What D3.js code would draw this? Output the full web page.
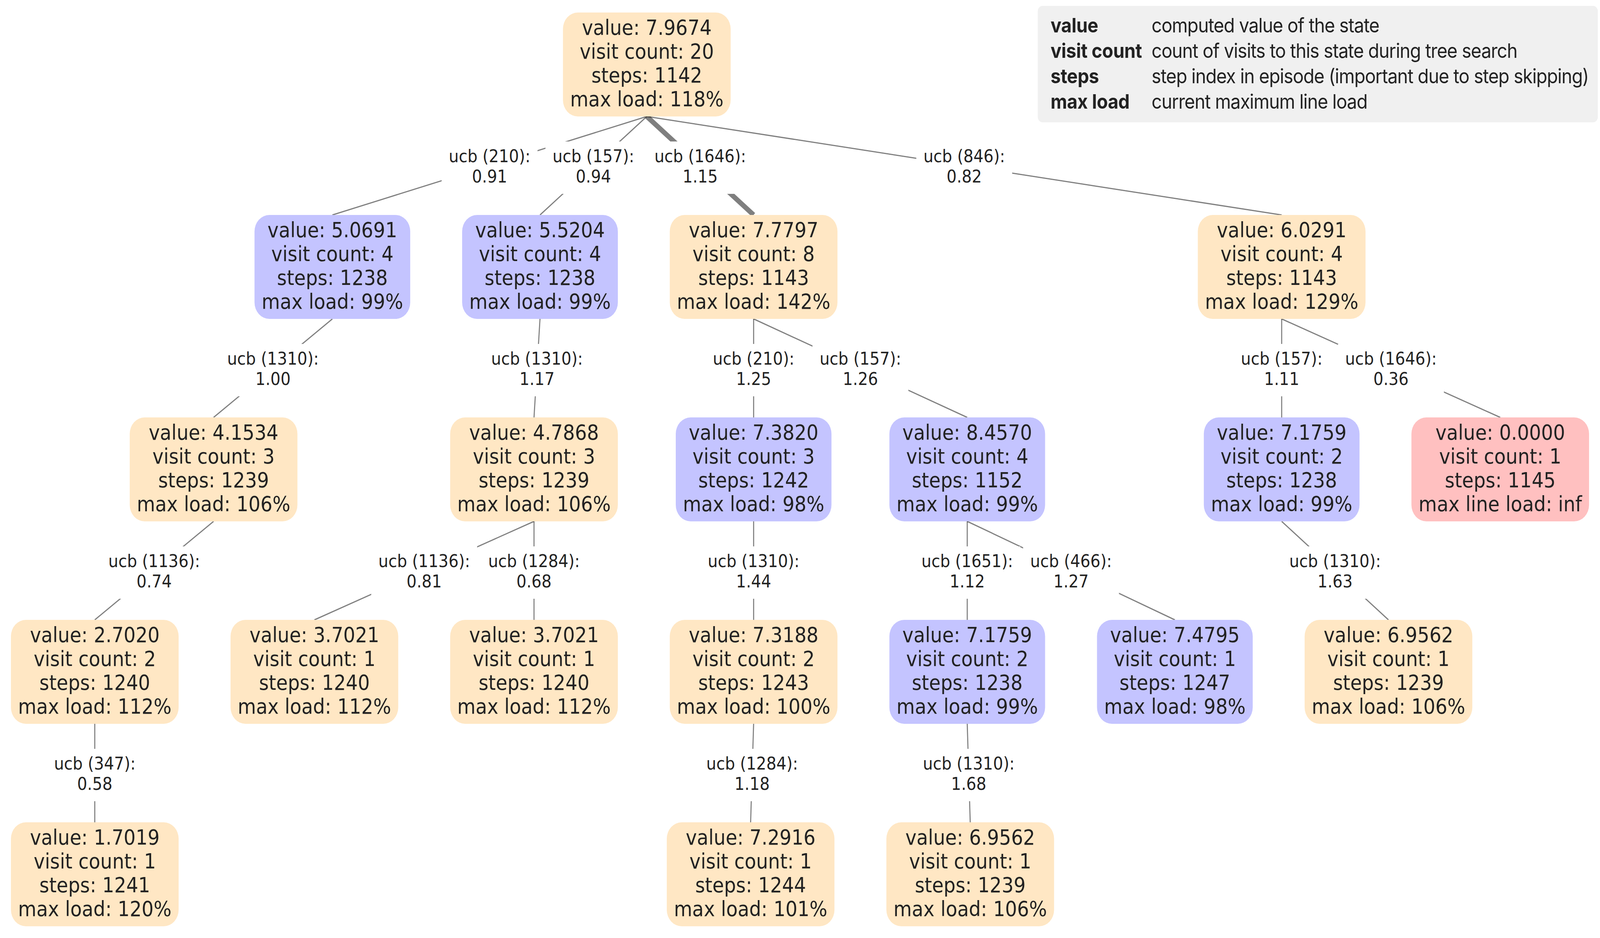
<!DOCTYPE html>
<meta charset="utf-8">
<script src="https://d3js.org/d3.v7.min.js"></script>
<style>
  body { margin: 0; background: #fff; overflow: hidden; }
  svg { display: block; width: 100vw; height: 100vh; }
</style>
<svg width="4500" height="2400" viewBox="0 0 4500 2400" preserveAspectRatio="none"></svg>

<script>
// search tree states, listed depth first (parent index, null for the root)
var parents     = [null, 0, 1, 2, 3, 0, 5, 6, 6, 0, 9, 10, 11, 9, 13, 14, 13, 0, 17, 18, 17];
var actions     = [null, 210, 1310, 1136, 347, 157, 1310, 1136, 1284, 1646, 210, 1310, 1284, 157, 1651, 1310, 466, 846, 157, 1310, 1646];
var ucbScores   = [null, 0.91, 1.00, 0.74, 0.58, 0.94, 1.17, 0.81, 0.68, 1.15, 1.25, 1.44, 1.18, 1.26, 1.12, 1.68, 1.27, 0.82, 1.11, 1.63, 0.36];
var values      = [7.9674, 5.0691, 4.1534, 2.7020, 1.7019, 5.5204, 4.7868, 3.7021, 3.7021, 7.7797, 7.3820,
                   7.3188, 7.2916, 8.4570, 7.1759, 6.9562, 7.4795, 6.0291, 7.1759, 6.9562, 0.0000];
var visitCounts = [20, 4, 3, 2, 1, 4, 3, 1, 1, 8, 3, 2, 1, 4, 2, 1, 1, 4, 2, 1, 1];
var stepIndex   = [1142, 1238, 1239, 1240, 1241, 1238, 1239, 1240, 1240, 1143, 1242,
                   1243, 1244, 1152, 1238, 1239, 1247, 1143, 1238, 1239, 1145];
var maxLoads    = [118, 99, 106, 112, 120, 99, 106, 112, 112, 142, 98,
                   100, 101, 99, 99, 106, 98, 129, 99, 106, Infinity];

var legendTerms = ["value", "visit count", "steps", "max load"];
var legendTexts = ["computed value of the state",
                   "count of visits to this state during tree search",
                   "step index in episode (important due to step skipping)",
                   "current maximum line load"];

var svg = d3.select("svg"),
    W = +svg.attr("width");

var nodeFont = "DejaVu Sans", nodeSize = 53, lineH = 61,
    labelSize = 44.5, labelLineH = 52,
    boxH = 266, padX = 20, gapX = 146,
    levelTop = 165, levelStep = 518;

var states = values.map(function (v, i) {
    return { id: i, parent: parents[i], action: actions[i], ucb: ucbScores[i],
             value: v, visits: visitCounts[i], steps: stepIndex[i], load: maxLoads[i] };
});

function nodeLines(d) {
    return ["value: " + d.value.toFixed(4),
            "visit count: " + d.visits,
            "steps: " + d.steps,
            isFinite(d.load) ? "max load: " + d.load + "%" : "max line load: inf"];
}
function fillFor(d) {
    if (!isFinite(d.load)) return "#ffc0c0";
    return d.load < 100 ? "#c4c4ff" : "#ffe7c4";
}

// text measuring
var probe = svg.append("text");
function textWidth(s, size, family, weight, spacing) {
    probe.attr("font-size", size).attr("font-family", family || nodeFont)
         .attr("font-weight", weight || "normal")
         .attr("letter-spacing", spacing || 0).text(s);
    return probe.node().getComputedTextLength();
}

var root = d3.stratify()
    .id(function (d) { return d.id; })
    .parentId(function (d) { return d.parent; })(states);

root.each(function (n) {
    n.lines = nodeLines(n.data);
    n.w = d3.max(n.lines, function (s) { return textWidth(s, nodeSize); }) + 2 * padX;
});

// layered layout: start from a tidy tree, then pull nodes toward their
// neighbours (median per rank, nodes of a rank kept apart), slide
// subtrees toward their parent, and centre branches that can move freely
d3.tree().nodeSize([650, 1]).separation(function () { return 1; })(root);

var nodes = root.descendants();
var ranks = d3.range(root.height + 1).map(function (k) {
    return nodes.filter(function (n) { return n.depth === k; });
});
function sep(a, b) { return (a.w + b.w) / 2 + gapX; }

function median(a) {
    var s = a.slice().sort(d3.ascending), m = s.length >> 1;
    return s.length % 2 ? s[m] : (s[m - 1] + s[m]) / 2;
}

function placeRank(rank) {
    var off = 0, blocks = [];
    rank.forEach(function (n, i) {
        if (i > 0) off += sep(rank[i - 1], n);
        n.off = off;
        var nb = (n.parent ? [n.parent.x] : []).concat((n.children || []).map(function (c) { return c.x; }));
        var vals = nb.map(function (v) { return v - off; });
        blocks.push({ vals: vals, items: [n], y: median(vals) });
        while (blocks.length > 1 && blocks[blocks.length - 2].y > blocks[blocks.length - 1].y) {
            var b = blocks.pop(), a = blocks.pop();
            var merged = { vals: a.vals.concat(b.vals), items: a.items.concat(b.items) };
            merged.y = median(merged.vals);
            blocks.push(merged);
        }
    });
    blocks.forEach(function (b) {
        b.items.forEach(function (n) { n.x = b.y + n.off; });
    });
}

// room a set of nodes has to move left / right inside its ranks
function room(group) {
    var inG = new Set(group), L = Infinity, R = Infinity;
    group.forEach(function (n) {
        var rank = ranks[n.depth], i = rank.indexOf(n);
        if (i > 0 && !inG.has(rank[i - 1])) L = Math.min(L, n.x - rank[i - 1].x - sep(rank[i - 1], n));
        if (i < rank.length - 1 && !inG.has(rank[i + 1])) R = Math.min(R, rank[i + 1].x - n.x - sep(n, rank[i + 1]));
    });
    return [Math.max(0, L), Math.max(0, R)];
}

function slideSubtrees() {
    nodes.forEach(function (n) {
        if (!n.parent) return;
        var want = n.parent.x - n.x;
        if (Math.abs(want) < 0.01) return;
        var r = room(n.descendants()),
            dx = want < 0 ? -Math.min(-want, r[0]) : Math.min(want, r[1]);
        if (Math.abs(dx) > 0.01) n.each(function (d) { d.x += dx; });
    });
}

// a branch (subtree of a without subtree of b) whose shift leaves the
// total edge length unchanged goes to the middle of its free range
function centreBranches() {
    nodes.forEach(function (a) {
        if (!a.parent) return;
        a.descendants().forEach(function (b) {
            if (b === a) return;
            var cut = new Set(b.descendants()),
                group = a.descendants().filter(function (d) { return !cut.has(d); });
            if (!group.some(function (d) { return d.children && d.children.length > 1; })) return;
            var r = room(group);
            var f = function (t) { return Math.abs(a.x + t - a.parent.x) + Math.abs(b.x - b.parent.x - t); };
            var pts = [-r[0], r[1], 0, a.parent.x - a.x, b.x - b.parent.x].filter(function (t) {
                return t >= -r[0] - 1e-6 && t <= r[1] + 1e-6 && isFinite(t);
            });
            var best = d3.min(pts, f),
                ok = pts.filter(function (t) { return f(t) <= best + 1e-6; }),
                t = (d3.min(ok) + d3.max(ok)) / 2;
            if (Math.abs(t) > 0.5) group.forEach(function (d) { d.x += t; });
        });
    });
}

function settle(n) {
    for (var it = 0; it < n; it++) {
        ranks.forEach(placeRank);
        ranks.slice().reverse().forEach(placeRank);
        slideSubtrees();
    }
    ranks.forEach(placeRank);
}
settle(60);
for (var pass = 0; pass < 3; pass++) {
    centreBranches();
    settle(20);
}

var xMin = d3.min(nodes, function (n) { return n.x - n.w / 2; }),
    xMax = d3.max(nodes, function (n) { return n.x + n.w / 2; });

var x = d3.scaleLinear()
    .domain([xMin, xMax])
    .range([W / 2 - (xMax - xMin) / 2, W / 2 + (xMax - xMin) / 2]);
var y = d3.scaleLinear()
    .domain([0, root.height])
    .range([levelTop, levelTop + levelStep * root.height]);

// the action actually taken from the root: most visited child
var chosen = d3.greatest(root.children, function (c) { return c.data.visits; });

var links = root.links().map(function (l) {
    var x1 = x(l.source.x), y1 = y(l.source.depth) + boxH / 2,
        x2 = x(l.target.x), y2 = y(l.target.depth) - boxH / 2;
    return { source: l.source, target: l.target, x1: x1, y1: y1, x2: x2, y2: y2,
             mx: (x1 + x2) / 2, my: (y1 + y2) / 2 };
});

// edges
svg.append("g")
    .selectAll("line")
    .data(links)
    .enter().append("line")
    .attr("x1", function (d) { return d.x1; })
    .attr("y1", function (d) { return d.y1; })
    .attr("x2", function (d) { return d.x2; })
    .attr("y2", function (d) { return d.y2; })
    .attr("stroke", "#000")
    .attr("stroke-opacity", 0.5)
    .attr("stroke-width", function (d) { return d.target === chosen ? 13 : 3; });

// edge labels
var lab = svg.append("g")
    .attr("font-family", nodeFont)
    .attr("font-size", labelSize)
    .attr("fill", "#222")
    .attr("text-anchor", "middle")
    .selectAll("g")
    .data(links)
    .enter().append("g");

lab.append("rect")
    .attr("fill", "#fff")
    .attr("x", function (d) {
        d.lw = Math.max(textWidth("ucb (" + d.target.data.action + "):", labelSize),
                        textWidth(d.target.data.ucb.toFixed(2), labelSize)) + 40;
        return d.mx - d.lw / 2;
    })
    .attr("y", function (d) { return d.my - 62; })
    .attr("width", function (d) { return d.lw; })
    .attr("height", 134);

lab.append("text")
    .attr("x", function (d) { return d.mx; })
    .attr("y", function (d) { return d.my - 9; })
    .text(function (d) { return "ucb (" + d.target.data.action + "):"; });

lab.append("text")
    .attr("x", function (d) { return d.mx; })
    .attr("y", function (d) { return d.my - 9 + labelLineH; })
    .text(function (d) { return d.target.data.ucb.toFixed(2); });

// state boxes
var node = svg.append("g")
    .selectAll("g")
    .data(nodes)
    .enter().append("g")
    .attr("transform", function (n) { return "translate(" + x(n.x) + "," + y(n.depth) + ")"; });

node.append("rect")
    .attr("x", function (n) { return -n.w / 2; })
    .attr("y", -boxH / 2)
    .attr("width", function (n) { return n.w; })
    .attr("height", boxH)
    .attr("rx", 42)
    .attr("fill", function (n) { return fillFor(n.data); });

node.append("text")
    .attr("font-family", nodeFont)
    .attr("font-size", nodeSize)
    .attr("fill", "#222")
    .attr("text-anchor", "middle")
    .selectAll("tspan")
    .data(function (n) { return n.lines; })
    .enter().append("tspan")
    .attr("x", 0)
    .attr("y", function (s, i) { return -76 + i * lineH; })
    .text(function (s) { return s; });

// legend
var legFont = "Inter", legSize = 51, legRow = 65,
    termSpacing = -0.35, descSpacing = -1.25;
var termW = d3.max(legendTerms, function (s) { return textWidth(s, legSize, legFont, "bold", termSpacing); }),
    descW = d3.max(legendTexts, function (s) { return textWidth(s, legSize, legFont, "normal", descSpacing); });
probe.remove();
var legW = 36 + termW + 27 + descW + 26,
    legX = W - 6 - legW;

var legend = svg.append("g")
    .attr("font-family", legFont)
    .attr("font-size", legSize)
    .attr("fill", "#222");

legend.append("rect")
    .attr("x", legX)
    .attr("y", 15)
    .attr("width", legW)
    .attr("height", 298)
    .attr("rx", 14)
    .attr("fill", "#f0f0f0");

var row = legend.selectAll("g.row")
    .data(legendTerms)
    .enter().append("g")
    .attr("class", "row")
    .attr("transform", function (d, i) { return "translate(" + (legX + 36) + "," + (83 + i * legRow) + ")"; });

row.append("text")
    .attr("font-weight", "bold")
    .attr("letter-spacing", termSpacing)
    .text(function (d) { return d; });

row.append("text")
    .attr("x", termW + 27)
    .attr("letter-spacing", descSpacing)
    .text(function (d, i) { return legendTexts[i]; });
</script>
